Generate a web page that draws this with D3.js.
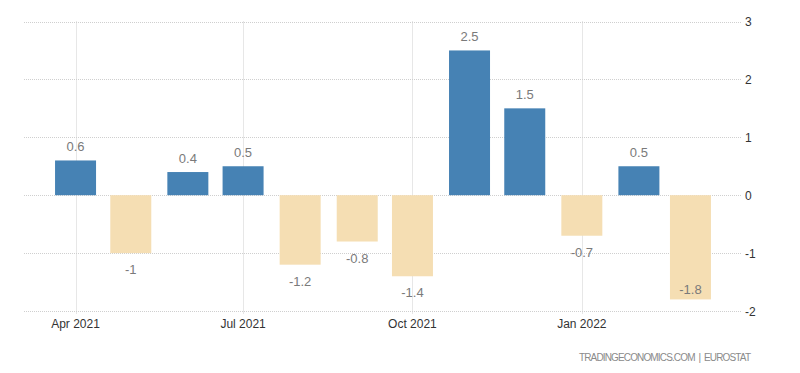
<!DOCTYPE html>
<html>
<head>
<meta charset="utf-8">
<script src="https://cdn.jsdelivr.net/npm/d3@7"></script>
<style>
    body { margin: 0; background: #fff; }
    text { font-family: "Liberation Sans", Arial, sans-serif; }
</style>
</head>
<body>
<svg id="chart" width="800" height="373"></svg>
<script>
// monthly change, Apr 2021 - Mar 2022
const months = ["2021-04", "2021-05", "2021-06", "2021-07", "2021-08", "2021-09",
                "2021-10", "2021-11", "2021-12", "2022-01", "2022-02", "2022-03"];
const values = [0.6, -1, 0.4, 0.5, -1.2, -0.8, -1.4, 2.5, 1.5, -0.7, 0.5, -1.8];
const xTicks = ["2021-04", "2021-07", "2021-10", "2022-01"];
const yTicks = [3, 2, 1, 0, -1, -2];

const parse = d3.timeParse("%Y-%m");
const svg = d3.select("#chart");

const plotLeft = 24, plotRight = 742, plotTop = 21.5, plotBottom = 311;

// time scale, bars sit on the first day of each month
const x = d3.scaleTime()
    .domain([new Date(2021, 2, 4), new Date(2022, 2, 29)])
    .range([plotLeft, plotRight]);

const y = d3.scaleLinear()
    .domain([-2, 3])
    .range([plotBottom, plotTop]);

const barW = 41;

// horizontal grid
svg.append("g")
    .selectAll("line")
    .data(yTicks)
    .join("line")
    .attr("x1", plotLeft)
    .attr("x2", plotRight)
    .attr("y1", d => Math.round(y(d)) + 0.5)
    .attr("y2", d => Math.round(y(d)) + 0.5)
    .attr("stroke", "#cfcfcf")
    .attr("stroke-dasharray", "1,1");

// vertical grid
svg.append("g")
    .selectAll("line")
    .data(xTicks)
    .join("line")
    .attr("x1", d => Math.round(x(parse(d))) + 0.5)
    .attr("x2", d => Math.round(x(parse(d))) + 0.5)
    .attr("y1", plotTop)
    .attr("y2", plotBottom + 3)
    .attr("stroke", "#cfcfcf")
    .attr("stroke-dasharray", "1,1");

// bars
svg.append("g")
    .selectAll("rect")
    .data(values)
    .join("rect")
    .attr("x", (d, i) => x(parse(months[i])) - barW / 2)
    .attr("y", d => y(Math.max(0, d)))
    .attr("width", barW)
    .attr("height", d => Math.abs(y(d) - y(0)))
    .attr("fill", d => d >= 0 ? "#4682b4" : "#f5deb3");

// value labels
svg.append("g")
    .selectAll("text")
    .data(values)
    .join("text")
    .attr("x", (d, i) => x(parse(months[i])))
    .attr("y", d => {
        if (d >= 0) return y(d) - 9;
        let ly = y(d) + 21;
        if (ly > plotBottom) ly = y(d) - 5; // no room below, put it inside the bar
        return ly;
    })
    .attr("text-anchor", "middle")
    .attr("font-size", 13)
    .attr("fill", "#7a7a7a")
    .text(d => d);

// x axis labels
const fmt = d3.timeFormat("%b %Y");
svg.append("g")
    .selectAll("text")
    .data(xTicks)
    .join("text")
    .attr("x", d => x(parse(d)))
    .attr("y", 328)
    .attr("text-anchor", "middle")
    .attr("font-size", 12)
    .attr("fill", "#333")
    .text(d => fmt(parse(d)));

// y axis labels on the right
svg.append("g")
    .selectAll("text")
    .data(yTicks)
    .join("text")
    .attr("x", 745)
    .attr("y", d => y(d) + 4.5)
    .attr("font-size", 12)
    .attr("fill", "#333")
    .text(d => d);

// source
svg.append("text")
    .attr("x", 579)
    .attr("y", 360.5)
    .attr("font-size", 10)
    .attr("fill", "#8a8a8a")
    .attr("textLength", 172)
    .style("white-space", "pre")
    .text("TRADINGECONOMICS.COM  |  EUROSTAT");
</script>
</body>
</html>
